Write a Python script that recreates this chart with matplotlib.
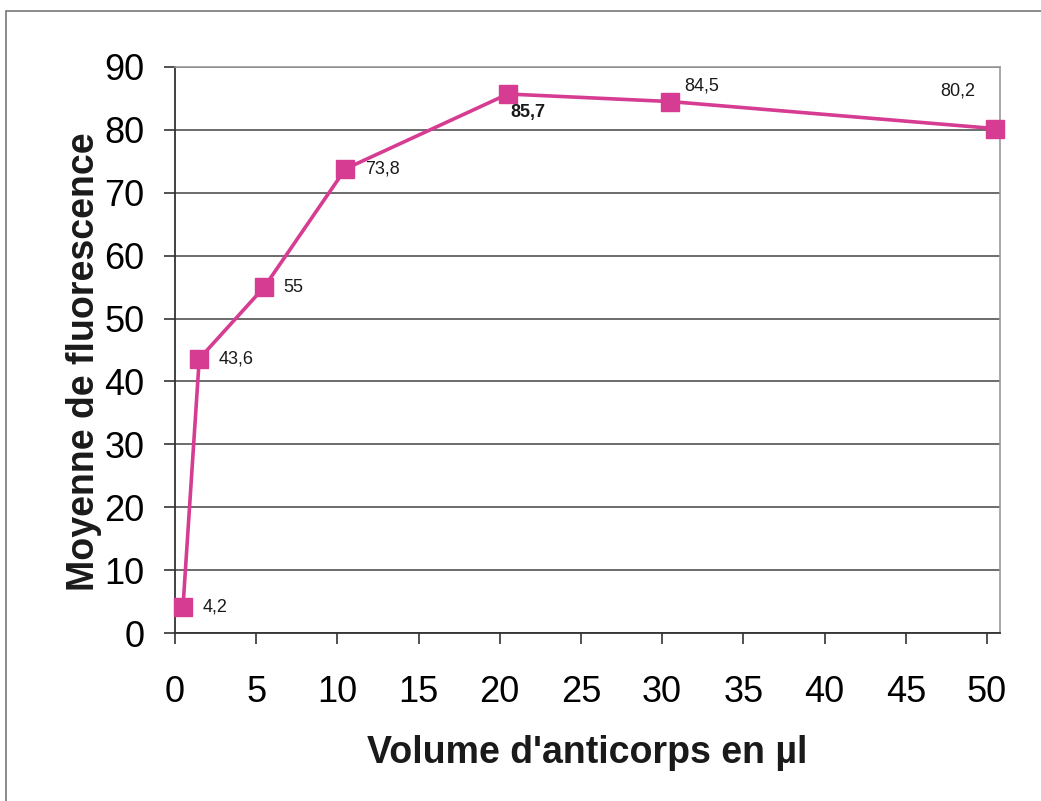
import matplotlib.pyplot as plt
from matplotlib.patches import Rectangle

plt.rcParams['font.family'] = ['Liberation Sans', 'DejaVu Sans']

volume = [0.5, 1.5, 5.5, 10.5, 20.5, 30.5, 50.5]
fluo = [4.2, 43.6, 55, 73.8, 85.7, 84.5, 80.2]
labels = ['4,2', '43,6', '55', '73,8', '85,7', '84,5', '80,2']
x_ticks = [0, 5, 10, 15, 20, 25, 30, 35, 40, 45, 50]
y_ticks = [0, 10, 20, 30, 40, 50, 60, 70, 80, 90]

PINK = '#d63c92'

fig = plt.figure(figsize=(10.41, 8.01), dpi=100)
fig.patches.append(Rectangle((6 / 1041, -0.2), 1.2, 1 - 11 / 801 + 0.2,
                             transform=fig.transFigure, fill=False,
                             edgecolor='#777777', linewidth=1.2))
ax = fig.add_axes([0.168, 0.2097, 0.7926, 0.7067])

ax.plot(volume, fluo, color=PINK, linewidth=2.6, marker='s', markersize=13,
        markerfacecolor=PINK, markeredgecolor=PINK, zorder=3, clip_on=False)

# label offsets in points (dx, dy, ha, bold)
offsets = [(14, 0, 'left', False), (14, 0, 'left', False), (14, 0, 'left', False),
           (14, 0, 'left', False), (2, -13, 'left', True), (10, 11, 'left', False),
           (-14, 27, 'right', False)]
for xv, yv, lab, (dx, dy, ha, bold) in zip(volume, fluo, labels, offsets):
    ax.annotate(lab, (xv, yv), xytext=(dx, dy), textcoords='offset points',
                ha=ha, va='center', fontsize=13,
                fontweight='bold' if bold else 'normal', color='#1a1a1a')

ax.set_xlim(0, 50.8)
ax.set_ylim(0, 90)
ax.set_xticks(x_ticks)
ax.set_yticks(y_ticks)
ax.yaxis.grid(True, color='#444444', linewidth=1.1)
ax.set_axisbelow(True)

ax.tick_params(axis='both', labelsize=26, length=8, width=1.2, color='#333333')
ax.tick_params(axis='x', pad=22)
ax.tick_params(axis='y', pad=14)
for side in ['left', 'bottom']:
    ax.spines[side].set_color('#333333')
    ax.spines[side].set_linewidth(1.3)
for side in ['top', 'right']:
    ax.spines[side].set_color('#999999')
    ax.spines[side].set_linewidth(1.2)

ax.set_xlabel("Volume d'anticorps en µl", fontsize=27, fontweight='bold',
              labelpad=18, color='#1a1a1a')
ax.set_ylabel('Moyenne de fluorescence', fontsize=27, fontweight='bold',
              color='#1a1a1a')
ax.yaxis.set_label_coords(-0.088, 0.48)

fig.savefig('out.png', dpi=100)
